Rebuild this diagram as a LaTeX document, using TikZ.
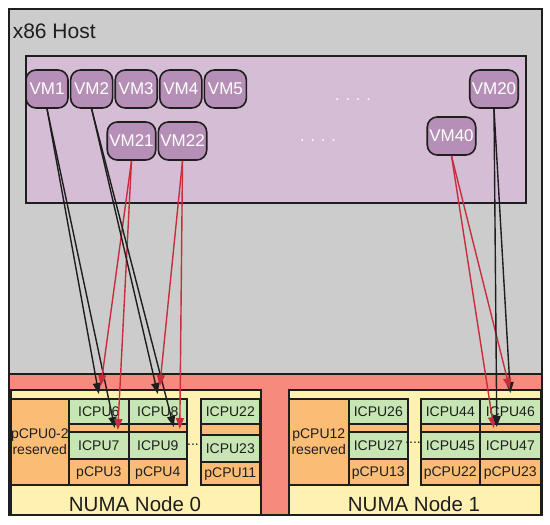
\documentclass[tikz,border=0pt]{standalone}
\usepackage{fontspec}
\setmainfont{Liberation Sans}
\usetikzlibrary{arrows.meta,positioning,calc}
\definecolor{ink}{RGB}{30,30,30}
\definecolor{hostgray}{RGB}{204,204,204}
\definecolor{vmarea}{RGB}{213,189,213}
\definecolor{vmfill}{RGB}{182,143,182}
\definecolor{salmon}{RGB}{246,138,124}
\definecolor{numafill}{RGB}{255,241,178}
\definecolor{corefill}{RGB}{251,189,117}
\definecolor{threadfill}{RGB}{200,230,180}
\definecolor{pinred}{RGB}{200,45,60}
\tikzset{
  every picture/.style={color=ink, line width=1.6pt},
  area/.style={draw=ink, line width=1.6pt, anchor=north west, inner sep=0pt},
  vm/.style={draw=ink, fill=vmfill, line width=1.6pt, rounded corners=10pt, text=white, inner xsep=2pt, minimum width=42pt, minimum height=38pt, font=\fontsize{17}{20}\selectfont},
  core/.style={area, fill=corefill, minimum height=86pt, text=ink, align=center, font=\fontsize{14}{16}\selectfont},
  thread/.style={area, fill=threadfill, text=ink, font=\fontsize{14}{16}\selectfont},
  lbl/.style={text=ink, inner sep=0pt, font=\fontsize{14}{16}\selectfont},
  dots/.style={text=white, inner sep=0pt, font=\fontsize{16}{18}\selectfont},
  numa/.style={text=ink, inner sep=0pt, font=\fontsize{20.5}{24}\selectfont},
  pin/.style={-{Triangle[length=11pt,width=8pt]}, line width=1.4pt, color=ink},
  pinr/.style={pin, color=pinred},
}

\begin{document}
\begin{tikzpicture}[x=1pt, y=-1pt]
  \useasboundingbox (0,0) rectangle (550,525);
  \fill[white] (0,0) rectangle (550,525);
  % host and guest area
  \node[area, fill=hostgray, minimum width=533, minimum height=506] (host) at (8,8) {};
  \node[anchor=base west, inner sep=0pt, font=\fontsize{21}{24}\selectfont] (hostname) at (12,38) {x86 Host};
  \node[area, fill=vmarea, minimum width=500, minimum height=147] (guests) at (25,55) {};
  % virtual machines
  \node[vm] (vm1) at (47,89) {VM1};
  \node[vm, right=1pt of vm1] (vm2) {VM2};
  \node[vm, right=1pt of vm2] (vm3) {VM3};
  \node[vm, right=1pt of vm3] (vm4) {VM4};
  \node[vm, right=1pt of vm4] (vm5) {VM5};
  \node[vm] (vm20) at (494,89) {VM20};
  \node[vm] (vm21) at (131.5,141) {VM21};
  \node[vm, right=1pt of vm21] (vm22) {VM22};
  \node[vm] (vm40) at (451.5,136) {VM40};
  \node[dots] (more1) at (353,100) {. . . .};
  \node[dots] (more2) at (318,141) {. . . .};
  % numa nodes
  \node[area, fill=salmon, minimum width=533, minimum height=141] (fabric) at (8,373) {};
  \node[area, fill=numafill, minimum width=250, minimum height=125] (numa0) at (10,389) {};
  \node[area, fill=numafill, minimum width=252, minimum height=125] (numa1) at (288,389) {};
  \node[numa] at (135,504) {NUMA Node 0};
  \node[numa] at (414,504) {NUMA Node 1};
  \node[core, minimum width=58] (res0) at (10,398) {pCPU0-2\\reserved};
  \node[core, minimum width=60] (res1) at (288,398) {pCPU12\\reserved};
  \foreach \x/\w/\p/\a/\b/\t in {68/60/3/6/7/431, 128/58/4/8/9/431, 200/59/11/22/23/434,
      348/59/13/26/27/431, 420/59/22/44/45/431, 479/61/23/46/47/431} {
    \node[core, minimum width=\w] (p\p) at (\x,398) {};
    \node[thread, minimum width=\w, minimum height=25] (c\a) at (\x,398) {ICPU\a};
    \node[thread, minimum width=\w, minimum height=27] (c\b) at (\x,\t) {ICPU\b};
    \node[lbl] at ($(c\b.south)!0.5!(p\p.south)$) {pCPU\p};
  }
  \node[lbl, anchor=base] (gap0) at (193,445) {...};
  \node[lbl, anchor=base] (gap1) at (413,443) {....};
  % pinning
  \draw[pin] (vm1.south) -- ($(c6.north)+(0,-4)$);
  \draw[pin] (vm1.south) -- ($(c7.north)+(16,-3)$);
  \draw[pinr] (vm21.south) -- ($(c6.north)+(2,-12)$);
  \draw[pinr] (vm21.south) -- ($(c7.north)+(19,-1)$);
  \draw[pin] (vm2.south) -- ($(c8.north)+(0,-4)$);
  \draw[pin] (vm2.south) -- ($(c9.north)+(16,-4)$);
  \draw[pinr] (vm22.south) -- ($(c8.north)+(2,-12)$);
  \draw[pinr] (vm22.south) -- ($(c9.north)+(22,-2)$);
  \draw[pinr] (vm40.south) -- ($(c47.north)+(-16.5,-3)$);
  \draw[pin] (vm20.south) -- ($(c46.north)+(0,-5)$);
  \draw[pinr] (vm40.south) -- ($(c46.north)+(-0.5,-9)$);
  \draw[pin] (vm20.south) -- ($(c47.north)+(-13.5,-4)$);
\end{tikzpicture}
\end{document}
